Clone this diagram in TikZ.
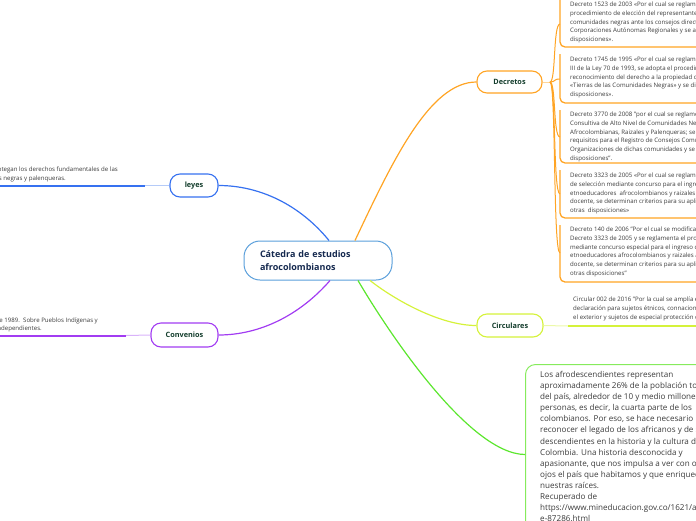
\documentclass[tikz,border=0pt]{standalone}
\usepackage{fontspec}
\setmainfont{Open Sans}
\usetikzlibrary{calc}
\definecolor{cblue}{HTML}{5A9FDB}
\definecolor{navy}{HTML}{15294F}
\definecolor{labelc}{HTML}{133D2C}
\definecolor{txtc}{HTML}{3A3A3A}
\definecolor{orng}{HTML}{FFA424}
\definecolor{orngl}{HTML}{FFD699}
\definecolor{blu}{HTML}{3671F0}
\definecolor{blul}{HTML}{B5CBF8}
\definecolor{purp}{HTML}{A23CF2}
\definecolor{purpl}{HTML}{D9B3FA}
\definecolor{ylw}{HTML}{D5F23A}
\definecolor{ylwl}{HTML}{ECF9A8}
\definecolor{grn}{HTML}{5CE62E}
\definecolor{grnl}{HTML}{86EB5C}
\begin{document}
\begin{tikzpicture}[x=1pt,y=-1pt,
  every node/.style={inner sep=0pt},
  central/.style={draw=cblue, line width=1pt, fill=white, rounded corners=16pt,
    minimum width=148pt, minimum height=39pt, text width=116pt, align=left,
    font=\bfseries\fontsize{9}{13}\selectfont, text=navy},
  topic/.style={fill=white, line width=1.1pt, rounded corners=10pt,
    font=\bfseries\fontsize{7.3}{9}\selectfont, text=labelc},
  conn/.style={line width=1.2pt},
  small/.style={font=\fontsize{6.1}{8.7}\selectfont, text=txtc, align=left},
  uline/.style={line width=2pt},
  lline/.style={line width=1pt},
  dbox/.style={orng, line width=1.3pt, rounded corners=5pt}
]
\useasboundingbox (0,0) rectangle (696,520);
\clip (0,0) rectangle (696,520);

% main topic and branches
\node[central] (c) at (318,260.5) {Cátedra de estudios\\afrocolombianos};
\node[topic, draw=orng, minimum width=65pt, minimum height=22pt] (dec) at (509.5,82) {Decretos};
\node[topic, draw=blu, minimum width=48pt, minimum height=23pt] (ley) at (194,185.5) {leyes};
\node[topic, draw=purp, minimum width=67pt, minimum height=24pt] (conv) at (184.5,335) {Convenios};
\node[topic, draw=ylw, minimum width=66pt, minimum height=23pt] (circ) at (510,325.5) {Circulares};
\node[draw=grnl, line width=1pt, rounded corners=10pt, minimum width=240pt,
      minimum height=180pt, anchor=north west] (gb) at (525,364) {};

% connectors from the main topic
\draw[conn, orng] ($(c.north)+(37,0)$) .. controls (393,160) and (430,82) .. (dec.west);
\draw[conn, blu] ($(c.north)+(11,0)$) .. controls (300,205) and (260,185.5) .. (ley.east);
\draw[conn, purp] ($(c.south)+(12,0)$) .. controls (300,315) and (260,335) .. (conv.east);
\draw[conn, ylw] ($(c.south)+(52,0)$) .. controls (395,300) and (440,325.5) .. (circ.west);
\draw[conn, grn] ($(c.south)+(40,0)$) .. controls (390,335) and (470,454) .. (gb.west);

% leyes
\draw[lline, blul] (ley.west) -- (145,185.5);
\draw[uline, blu] (145,185.5) -- (-5,185.5);
\node[small, anchor=base east] (lt1) at (118,171) {Leyes que protegan los derechos fundamentales de las};
\node[small, anchor=base east] (lt2) at (66,180) {comunidades negras y palenqueras.};

% convenios
\draw[lline, purpl] (conv.west) -- (126,335.5);
\draw[uline, purp] (126,335.5) -- (-5,335.5);
\node[small, anchor=base east] (ct1) at (98,322) {Convenio 169 de la OIT de 1989.\ \ Sobre Pueblos Indígenas y};
\node[small, anchor=base east] (ct2) at (42,330) {Tribales en Países Independientes.};

% circulares
\coordinate (cu) at (568,326);
\draw[lline, ylwl] (circ.east) -- (cu);
\draw[uline, ylw] (cu) -- (700,326);
\node[small, anchor=north west] (cr) at (573,297) {Circular 002 de 2016 "Por la cual se amplía el plazo de la\\declaración para sujetos étnicos, connacionales residentes en\\el exterior y sujetos de especial protección constitucional"};

% decretos
\node[small, anchor=north west] (d1) at (570,2) {Decreto 1523 de 2003 «Por el cual se reglamenta el\\procedimiento de elección del representante y suplente de las\\comunidades negras ante los consejos directivos de las\\Corporaciones Autónomas Regionales y se adoptan otras\\disposiciones».};
\node[small, anchor=north west] (d2) at (570,57) {Decreto 1745 de 1995 «Por el cual se reglamenta el Capítulo\\III de la Ley 70 de 1993, se adopta el procedimiento para el\\reconocimiento del derecho a la propiedad colectiva de las\\«Tierras de las Comunidades Negras» y se dictan otras\\disposiciones».};
\node[small, anchor=north west] (d3) at (570,112) {Decreto 3770 de 2008 "por el cual se reglamenta la Comisión\\Consultiva de Alto Nivel de Comunidades Negras,\\Afrocolombianas, Raizales y Palenqueras; se establecen los\\requisitos para el Registro de Consejos Comunitarios,\\Organizaciones de dichas comunidades y se dictan otras\\disposiciones".};
\node[small, anchor=north west] (d4) at (570,173) {Decreto 3323 de 2005 «Por el cual se reglamenta el proceso\\de selección mediante concurso para el ingreso de\\etnoeducadores\ \ afrocolombianos y raizales a la carrera\\docente, se determinan criterios para su aplicación y se dictan\\otras\ \ disposiciones»};
\node[small, anchor=north west] (d5) at (570,227) {Decreto 140 de 2006 "Por el cual se modifica parcialmente el\\Decreto 3323 de 2005 y se reglamenta el proceso de selección\\mediante concurso especial para el ingreso de\\etnoeducadores afrocolombianos y raizales a la carrera\\docente, se determinan criterios para su aplicación y se dictan\\otras disposiciones"};

\draw[dbox] (560,-5) -- (560,47) -- (700,47);
\draw[dbox] (560,54) -- (560,103) -- (700,103);
\draw[dbox] (560,110) -- (560,163) -- (700,163);
\draw[dbox] (560,170) -- (560,218) -- (700,218);
\draw[dbox] (560,225) -- (560,282) -- (700,282);
\draw[lline, orngl] (dec.east) -- (550,82);
\foreach \ym in {24,79,137,194,253}{
  \draw[lline, orng] (550,82) .. controls (556,82) and (553,\ym) .. (560,\ym);
}

% green text
\node[anchor=north west, font=\fontsize{8.1}{11.1}\selectfont, text=txtc, align=left] (gt) at (540,371) {Los afrodescendientes representan\\aproximadamente 26\% de la población total\\del país, alrededor de 10 y medio millones de\\personas, es decir, la cuarta parte de los\\colombianos. Por eso, se hace necesario\\reconocer el legado de los africanos y de sus\\descendientes en la historia y la cultura de\\Colombia. Una historia desconocida y\\apasionante, que nos impulsa a ver con otros\\ojos el país que habitamos y que enriquece\\nuestras raíces.\\Recuperado de\\https://www.mineducacion.gov.co/1621/article-\\e-87286.html};
\end{tikzpicture}
\end{document}
